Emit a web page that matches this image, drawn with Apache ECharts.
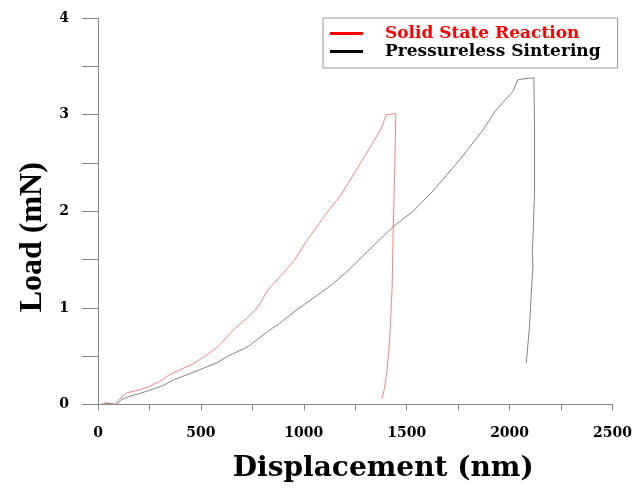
<!DOCTYPE html>
<html>
<head>
<meta charset="utf-8">
<script src="https://cdn.jsdelivr.net/npm/echarts@6/dist/echarts.min.js"></script>
<style>
  html, body { margin: 0; padding: 0; background: #fff; }
  #chart { width: 635px; height: 492px; }
</style>
</head>
<body>
<div id="chart"></div>
<script>
// Solid State Reaction: loading then unloading, [displacement nm, load mN]
var solidState = [
  [17, 0], [40, 0.02], [60, 0.01], [83, 0], [107, 0.06], [138, 0.12], [178, 0.14],
  [243, 0.18], [300, 0.24], [341, 0.30], [389, 0.35], [462, 0.42], [519, 0.50],
  [584, 0.60], [657, 0.77], [722, 0.89], [778, 1.01], [827, 1.19], [892, 1.34],
  [953, 1.49], [1013, 1.69], [1110, 1.98], [1175, 2.15], [1256, 2.43], [1336, 2.71],
  [1377, 2.86], [1401, 3.00], [1447, 3.01],
  [1442, 2.46], [1434, 1.78], [1429, 1.19], [1417, 0.67], [1405, 0.36], [1393, 0.18], [1380, 0.06]
];
// Pressureless Sintering
var pressureless = [
  [20, 0], [50, 0.01], [90, 0], [115, 0.05], [147, 0.08], [212, 0.12], [309, 0.19],
  [374, 0.26], [471, 0.34], [576, 0.43], [632, 0.50], [730, 0.60], [827, 0.76],
  [883, 0.84], [953, 0.96], [1045, 1.10], [1130, 1.23], [1207, 1.37], [1288, 1.54], [1434, 1.84],
  [1531, 2.00], [1628, 2.21], [1676, 2.33], [1757, 2.53], [1870, 2.84], [1935, 3.05],
  [2016, 3.24], [2040, 3.36], [2065, 3.37], [2118, 3.38],
  [2121, 2.88], [2121, 2.19], [2113, 1.70], [2110, 1.60], [2113, 1.43], [2105, 1.15],
  [2097, 0.81], [2081, 0.43]
];
var seriesNames = ['Solid State Reaction', 'Pressureless Sintering'];

var font = '"Liberation Serif", "Times New Roman", serif';
// the picture is stretched sideways, a wider serif fits the horizontal texts better
var wideFont = '"DejaVu Serif", serif';
var myChart = echarts.init(document.getElementById('chart'));

var option = {
  animation: false,
  backgroundColor: '#fff',
  grid: { left: 98, right: 21, top: 18, bottom: 87.5 },
  legend: {
    orient: 'vertical',
    left: 323,
    top: 18,
    padding: [7, 17, 8, 7],
    itemGap: 1,
    itemWidth: 33,
    itemHeight: 3,
    icon: 'rect',
    borderColor: '#999',
    borderWidth: 1,
    backgroundColor: '#fff',
    data: [
      { name: seriesNames[0], itemStyle: { color: '#ff0000' },
        textStyle: { color: '#ff0000' } },
      { name: seriesNames[1], itemStyle: { color: '#000' },
        textStyle: { color: '#000' } }
    ],
    textStyle: {
      fontFamily: wideFont, fontWeight: 'bold', fontSize: 17,
      padding: [0, 0, 0, 17]
    }
  },
  xAxis: {
    type: 'value',
    min: 0, max: 2500, interval: 500,
    name: 'Displacement (nm)',
    nameLocation: 'middle',
    nameGap: 50,
    nameTextStyle: {
      fontFamily: wideFont, fontWeight: 'bold', fontSize: 28, color: '#000',
      padding: [0, 0, 0, 56]
    },
    axisLine: { lineStyle: { color: '#888', width: 1 } },
    axisTick: { inside: false, length: 6, lineStyle: { color: '#888' } },
    minorTick: { show: true, splitNumber: 2, length: 6, lineStyle: { color: '#888' } },
    splitLine: { show: false },
    axisLabel: {
      margin: 22,
      formatter: function (v) { return String(v); },
      fontFamily: wideFont, fontWeight: 'bold', fontSize: 14, color: '#000'
    }
  },
  yAxis: {
    type: 'value',
    min: 0, max: 4, interval: 1,
    name: 'Load (mN)',
    nameLocation: 'middle',
    nameGap: 46,
    nameRotate: 90,
    nameTextStyle: {
      fontFamily: font, fontWeight: 'bold', fontSize: 32, color: '#000',
      padding: [0, 52, 0, 0]
    },
    axisLine: { show: true, lineStyle: { color: '#888', width: 1 } },
    axisTick: { show: true, inside: false, length: 16, lineStyle: { color: '#888' } },
    minorTick: { show: true, splitNumber: 2, length: 16, lineStyle: { color: '#888' } },
    splitLine: { show: false },
    axisLabel: {
      margin: 29,
      fontFamily: wideFont, fontWeight: 'bold', fontSize: 14, color: '#000'
    }
  },
  graphic: [{
    type: 'line',
    shape: { x1: 82, y1: 404.5, x2: 98, y2: 404.5 },
    style: { stroke: '#888', lineWidth: 1 },
    silent: true
  }],
  series: [
    {
      name: seriesNames[0],
      type: 'line',
      data: solidState,
      showSymbol: false,
      color: '#ff8080',
      lineStyle: { width: 1, color: '#ff8080' }
    },
    {
      name: seriesNames[1],
      type: 'line',
      data: pressureless,
      showSymbol: false,
      color: '#858585',
      lineStyle: { width: 1, color: '#858585' }
    }
  ]
};

myChart.setOption(option);
</script>
</body>
</html>
